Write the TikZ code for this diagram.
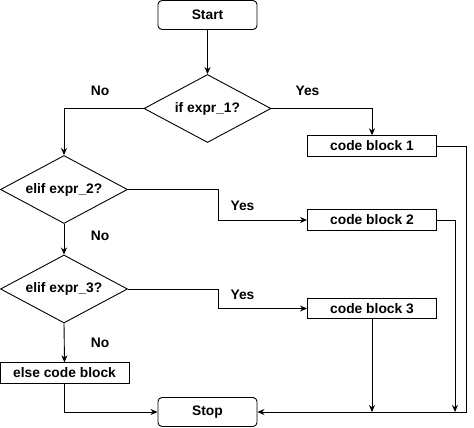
\documentclass[tikz,border=0pt]{standalone}
\usepackage{fontspec}
\setmainfont{Liberation Sans}
\usepackage{tikz}
\usetikzlibrary{arrows.meta,shapes.geometric}

\begin{document}
\begin{tikzpicture}[x=1pt,y=-1pt,line width=0.9pt,
                font=\fontsize{13.8}{15}\selectfont\bfseries,
                term/.style={draw,rounded corners=4pt,minimum width=99pt,minimum height=29pt,inner sep=0pt},
                cond/.style={draw,diamond,aspect=1.85,minimum width=127pt,minimum height=68pt,inner sep=0pt},
                block/.style={draw,minimum width=129pt,minimum height=20.5pt,inner sep=0pt},
                flow/.style={-{Stealth[length=7pt,width=6pt]}}]
                \useasboundingbox[fill=white] (0,0) rectangle (474,428);
                \node[term] (start) at (207.5,15) {Start};
                \node[cond] (ifa) at (207.5,108.5) {if expr\_1?};
                \node[cond] (elifb) at (64,189.5) {elif expr\_2?};
                \node[cond] (elifc) at (64,289) {elif expr\_3?};
                \node[block] (cba) at (372,146) {code block 1};
                \node[block] (cbb) at (372,220) {code block 2};
                \node[block] (cbc) at (372,308.5) {code block 3};
                \node[block] (elseb) at (64.5,373) {else code block};
                \node[term] (stop) at (207.5,412) {Stop};
                \node (noa) at (100,91) {No};
                \node (yesa) at (307.5,91) {Yes};
                \node (yesb) at (242.5,206) {Yes};
                \node (nob) at (100,235.5) {No};
                \node (yesc) at (242.5,294.5) {Yes};
                \node (noc) at (100,343) {No};
                \coordinate (endb) at (455,412);
                \coordinate (endc) at (cbc |- stop);
                \draw[flow] (start) -- (ifa);
                \draw[flow] (ifa.west) -| (elifb.north);
                \draw[flow] (ifa.east) -| (cba.north);
                \draw[flow] (elifb.east) -- ++(90,0) |- (cbb.west);
                \draw[flow] (elifb.south) -- (elifc.north);
                \draw[flow] (elifc.east) -- ++(90,0) |- (cbc.west);
                \draw[flow] (elifc.south) -- (elseb.north);
                \draw[flow] (elseb.south) |- (stop.west);
                \draw[flow] (cba.east) -- ++(29,0) |- (stop.east);
                \draw[flow] (cbb.east) -| (endb);
                \draw[flow] (cbc.south) -- (endc);
            \end{tikzpicture}
\end{document}
